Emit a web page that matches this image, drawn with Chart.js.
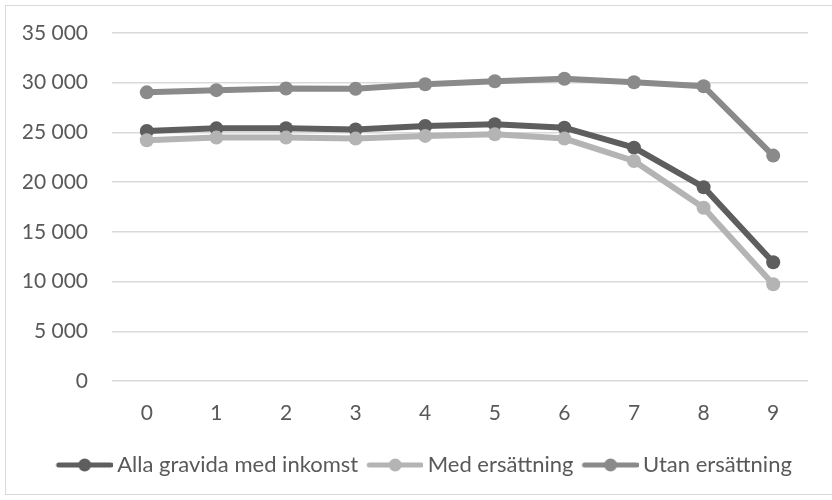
<!DOCTYPE html>
<html>
<head>
<meta charset="utf-8">
<script src="https://cdn.jsdelivr.net/npm/chart.js@4/dist/chart.umd.min.js"></script>
<style>
  html, body { margin:0; padding:0; background:#fff; }
  #wrap { position:absolute; left:5px; top:5px; width:840px; height:490px; border:1px solid #d9d9d9; box-sizing:border-box; }
  #c-line { position:absolute; left:0; top:0; }
</style>
</head>
<body>
<div id="wrap"></div>
<canvas id="c-line" width="832" height="500"></canvas>
<script>
const CATEGORIES = ['0','1','2','3','4','5','6','7','8','9'];
const ALLA = [25150, 25410, 25420, 25300, 25650, 25820, 25480, 23470, 19490, 11940];
const MED  = [24210, 24480, 24480, 24380, 24650, 24820, 24380, 22130, 17430, 9730];
const UTAN = [29030, 29250, 29420, 29400, 29850, 30150, 30400, 30050, 29650, 22670];
const SERIES_NAMES = ['Alla gravida med inkomst', 'Med ersättning', 'Utan ersättning'];
const COLORS = ['#5e5e5e', '#b4b4b4', '#8a8a8a'];
const Y_MAX = 35000, Y_STEP = 5000;

const TXT = '#595959';
const FONT = 'Lato, "Open Sans", sans-serif';

// legend sample: line with a dot, padded left so text sits close to it
function legendSample(color) {
    const cv = document.createElement('canvas');
    cv.width = 63; cv.height = 16;
    const ctx = cv.getContext('2d');
    ctx.strokeStyle = color; ctx.lineWidth = 5; ctx.lineCap = 'round';
    ctx.beginPath(); ctx.moveTo(9, 8); ctx.lineTo(61, 8); ctx.stroke();
    ctx.fillStyle = color;
    ctx.beginPath(); ctx.arc(35, 8, 6.5, 0, Math.PI*2); ctx.fill();
    return cv;
}

const fmt = v => String(v).replace(/\B(?=(\d{3})+(?!\d))/g, ' ');

const mk = (i, data, order) => ({
    label: SERIES_NAMES[i], data,
    borderColor: COLORS[i], backgroundColor: COLORS[i],
    pointBackgroundColor: COLORS[i], pointBorderWidth: 0,
    borderWidth: 6, pointRadius: 7, tension: 0, order
});

// legend in the original sits centred on the whole frame, nudge it a bit right
const legendShift = {
    id: 'legendShift',
    afterLayout(chart) {
        if (chart.legend) { chart.legend.left += 8.5; chart.legend.right += 8.5; }
    }
};

new Chart(document.getElementById('c-line'), {
    type: 'line',
    data: {
        labels: CATEGORIES,
        datasets: [mk(0, ALLA, 2), mk(1, MED, 1), mk(2, UTAN, 0)]
    },
    plugins: [legendShift],
    options: {
        responsive: false,
        animation: false,
        layout: { padding: { left: 23, right: 24, top: 33, bottom: 14 } },
        scales: {
            x: {
                offset: true,
                grid: { display: false, drawTicks: false },
                border: { display: false },
                ticks: { color: TXT, font: { family: FONT, size: 21 }, padding: 19.65 }
            },
            y: {
                min: 0, max: Y_MAX,
                afterFit: s => { s.width = 89; },
                // invisible tick marks give the label gap without padding the top
                grid: { color: '#d9d9d9', lineWidth: 1.5, drawTicks: true, tickLength: 24, tickColor: 'rgba(0,0,0,0)' },
                border: { display: false },
                ticks: { stepSize: Y_STEP, color: TXT, font: { family: FONT, size: 21 }, padding: 0, callback: v => fmt(v) }
            }
        },
        plugins: {
            tooltip: { enabled: false },
            legend: {
                position: 'bottom',
                labels: {
                    usePointStyle: true,
                    pointStyleWidth: 50,
                    padding: 8.5,
                    color: TXT,
                    font: { family: FONT, size: 22 },
                    generateLabels: chart => chart.data.datasets.map((ds, i) => ({
                        text: ds.label,
                        pointStyle: legendSample(ds.borderColor),
                        fillStyle: ds.borderColor,
                        strokeStyle: ds.borderColor,
                        lineWidth: 0,
                        fontColor: TXT,
                        datasetIndex: i
                    }))
                }
            }
        }
    }
});
</script>
</body>
</html>
